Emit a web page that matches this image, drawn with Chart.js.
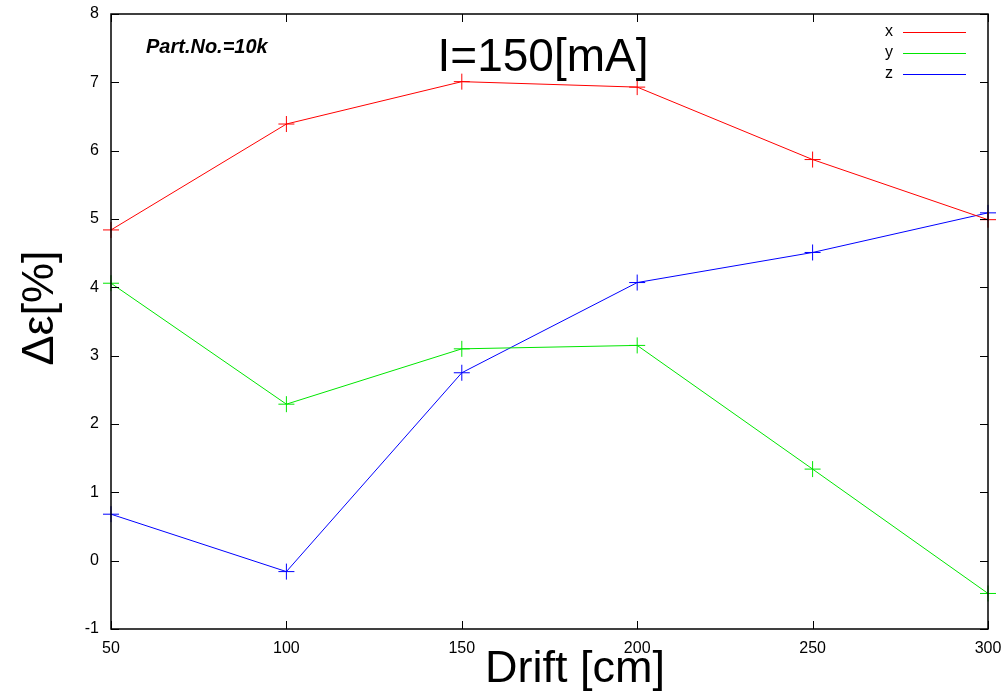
<!DOCTYPE html>
<html>
<head>
<meta charset="utf-8">
<script src="https://cdn.jsdelivr.net/npm/chart.js@4"></script>
<style>
  html, body { margin: 0; padding: 0; background: #fff; }
  #wrap { width: 1008px; height: 700px; }
</style>
</head>
<body>
<div id="wrap"><canvas id="driftChart" width="1008" height="700"></canvas></div>
<script>
let driftValues = [50, 100, 150, 200, 250, 300];
let xValues = [4.84, 6.39, 7.01, 6.93, 5.87, 4.99];
let yValues = [4.06, 2.29, 3.10, 3.15, 1.34, -0.48];
let zValues = [0.68, -0.16, 2.75, 4.07, 4.51, 5.09];
let xTicks = [50, 100, 150, 200, 250, 300];
let yTicks = [-1, 0, 1, 2, 3, 4, 5, 6, 7, 8];

let seriesNames = ["x", "y", "z"];
let seriesColors = ["rgb(255,0,0)", "rgb(0,230,0)", "rgb(0,0,255)"];
let seriesData = [xValues, yValues, zValues];

const FONT = "'Liberation Sans', Arial, Helvetica, sans-serif";

function points(vals) {
    return vals.map((v, i) => ({x: driftValues[i], y: v}));
}

// frame, inward ticks, labels and legend in the gnuplot style
const framePlugin = {
    id: "frame",
    afterDatasetsDraw(chart) {
        const ctx = chart.ctx;
        const a = chart.chartArea;
        const xs = chart.scales.x, ys = chart.scales.y;
        ctx.save();
        ctx.strokeStyle = "#000";
        ctx.lineWidth = 1.5;
        ctx.strokeRect(a.left, a.top, a.right - a.left, a.bottom - a.top);

        ctx.lineWidth = 1;
        ctx.beginPath();
        xTicks.forEach(t => {
            const px = Math.round(xs.getPixelForValue(t)) + 0.5;
            ctx.moveTo(px, a.bottom); ctx.lineTo(px, a.bottom - 8);
            ctx.moveTo(px, a.top); ctx.lineTo(px, a.top + 8);
        });
        yTicks.forEach(t => {
            const py = Math.round(ys.getPixelForValue(t)) + 0.5;
            ctx.moveTo(a.left, py); ctx.lineTo(a.left + 8, py);
            ctx.moveTo(a.right, py); ctx.lineTo(a.right - 8, py);
        });
        ctx.stroke();

        // labels inside the plot
        ctx.fillStyle = "#000";
        ctx.textBaseline = "middle";
        ctx.textAlign = "left";
        ctx.font = "italic bold 20px " + FONT;
        ctx.fillText("Part.No.=10k", 146, 47);
        ctx.textAlign = "center";
        ctx.font = "46px " + FONT;
        ctx.fillText("I=150[mA]", 543, 58);

        // legend
        ctx.font = "16px " + FONT;
        ctx.textAlign = "right";
        chart.data.datasets.forEach((ds, i) => {
            const yy = 32 + i * 21;
            ctx.fillStyle = "#000";
            ctx.fillText(ds.label, 893, yy);
            ctx.strokeStyle = ds.borderColor;
            ctx.beginPath();
            ctx.moveTo(903, yy + 0.5); ctx.lineTo(966, yy + 0.5);
            ctx.stroke();
        });

        // axis titles
        ctx.fillStyle = "#000";
        ctx.font = "45px " + FONT;
        ctx.textAlign = "center";
        ctx.fillText("Drift [cm]", 575, 670);
        ctx.translate(41, 308);
        ctx.rotate(-Math.PI / 2);
        ctx.fillText("\u0394\u03b5[%]", 0, 0);
        ctx.restore();
    }
};

new Chart("driftChart", {
    type: "line",
    data: {
        datasets: seriesNames.map((name, i) => ({
            label: name,
            data: points(seriesData[i]),
            borderColor: seriesColors[i],
            backgroundColor: seriesColors[i],
            borderWidth: 1,
            pointStyle: "cross",
            pointRadius: 8,
            pointBorderWidth: 1,
            pointHoverRadius: 8,
            tension: 0,
            clip: false
        }))
    },
    options: {
        responsive: false,
        animation: false,
        events: [],
        layout: {autoPadding: false, padding: {top: 14, right: 20, left: 0, bottom: 0}},
        plugins: {
            legend: {display: false},
            title: {display: false},
            tooltip: {enabled: false}
        },
        scales: {
            x: {
                type: "linear",
                min: 50,
                max: 300,
                afterFit(scale) {
                    scale.height = 71;
                    scale.paddingLeft = 0;
                    scale.paddingRight = 0;
                },
                afterBuildTicks(scale) { scale.ticks = xTicks.map(v => ({value: v})); },
                grid: {display: false, drawTicks: false},
                border: {display: false},
                ticks: {
                    padding: 10,
                    color: "#000",
                    font: {family: FONT, size: 16}
                }
            },
            y: {
                min: -1,
                max: 8,
                afterFit(scale) {
                    scale.width = 111;
                    scale.paddingTop = 0;
                    scale.paddingBottom = 0;
                },
                afterBuildTicks(scale) { scale.ticks = yTicks.map(v => ({value: v})); },
                grid: {display: false, drawTicks: false},
                border: {display: false},
                ticks: {
                    padding: 12,
                    color: "#000",
                    font: {family: FONT, size: 16}
                }
            }
        }
    },
    plugins: [framePlugin]
});
</script>
</body>
</html>
